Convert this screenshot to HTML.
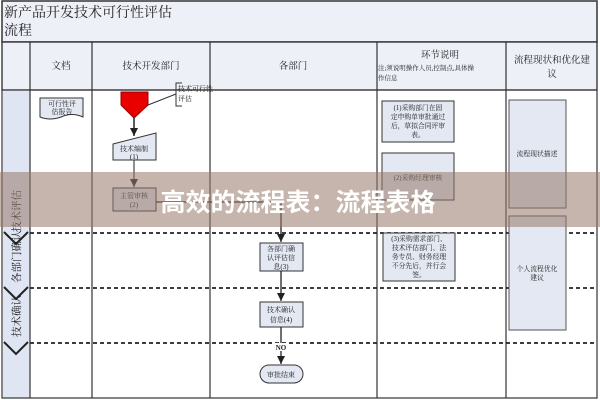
<!DOCTYPE html>
<html><head><meta charset="utf-8"><style>
html,body{margin:0;padding:0;background:#fff;}
svg{display:block;}
text{font-family:"Liberation Serif","Noto Serif CJK SC","Noto Sans CJK SC",serif;fill:#222;}
</style></head><body>
<svg width="600" height="400" viewBox="0 0 600 400" xmlns="http://www.w3.org/2000/svg">
<defs>
<marker id="a" viewBox="0 0 10 10" refX="10" refY="5" markerWidth="8" markerHeight="8" orient="auto" markerUnits="userSpaceOnUse"><path d="M0,0 L10,5 L0,10 z" fill="#222"/></marker></defs>
<rect x="0" y="0" width="600" height="400" fill="#fff"/>
<rect x="2" y="1" width="595" height="41" fill="#eef0f8" stroke="#333" stroke-width="1.5"/>
<text x="4" y="17" font-size="14">新产品开发技术可行性评估</text>
<text x="4" y="35" font-size="14">流程</text>
<rect x="2" y="42" width="595" height="48" fill="#eef0f8" stroke="#333" stroke-width="1.2"/>
<rect x="3" y="90" width="27" height="308" fill="#dfe5f2"/>
<g stroke="#333" stroke-width="1.2">
<line x1="30" y1="42" x2="30" y2="398"/><line x1="92" y1="42" x2="92" y2="398"/>
<line x1="210" y1="42" x2="210" y2="398"/><line x1="377" y1="42" x2="377" y2="398"/>
<line x1="506" y1="42" x2="506" y2="398"/><line x1="2" y1="90" x2="597" y2="90"/>
<rect x="2" y="42" width="595" height="356" fill="none"/>
</g>
<g stroke="#222" stroke-width="1.8" stroke-dasharray="4,3">
<line x1="30" y1="233" x2="597" y2="233"/><line x1="30" y1="288" x2="597" y2="288"/><line x1="30" y1="343" x2="597" y2="343"/>
</g>
<g fill="none" stroke="#222" stroke-width="2">
<polyline points="4,232 16,244 28,232"/><polyline points="4,287 16,299 28,287"/><polyline points="4,342 16,354 28,342"/>
</g>
<g font-size="10.5" transform="rotate(-90)">
<text x="-232" y="20">技术评估</text><text x="-283" y="20">各部门确认</text><text x="-337" y="20">技术确认</text>
</g>
<g font-size="9.5" text-anchor="middle">
<text x="61" y="69">文档</text><text x="151" y="69">技术开发部门</text><text x="293" y="69">各部门</text>
<text x="440" y="58">环节说明</text>
<text x="552" y="63">流程现状和优化建</text><text x="552" y="77">议</text>
</g>
<g font-size="6.5"><text x="378" y="70">注;须说明操作人员,控制点,具体操</text><text x="378" y="80">作信息</text></g>
<path d="M40,98 H83 V117 Q72,112 61,117 Q50,121 40,117 Z" fill="#e3e8f2" stroke="#333"/>
<g font-size="7" text-anchor="middle"><text x="62" y="106">可行性评</text><text x="62" y="114">估报告</text></g>
<path d="M121,92 H148 V105 L134,118 L121,105 Z" fill="#e80000" stroke="#900"/>
<line x1="148" y1="105" x2="176" y2="94" stroke="#333"/>
<polyline points="182,83 176,83 176,106 182,106" fill="none" stroke="#333"/>
<g font-size="7"><text x="178" y="91">技术可行性</text><text x="178" y="101">评估</text></g>
<line x1="134" y1="118" x2="134" y2="136" stroke="#222" stroke-width="1.5" marker-end="url(#a)"/>
<path d="M113,144 L156,133 V160 H113 Z" fill="#e3e8f2" stroke="#333"/>
<g font-size="7" text-anchor="middle"><text x="134" y="151">技术编制</text><text x="134" y="159">(1)</text></g>
<line x1="134" y1="160" x2="134" y2="187" stroke="#444" stroke-width="1.2" marker-end="url(#a)"/>
<rect x="113" y="188" width="43" height="23" fill="#e3e8f2" stroke="#333"/>
<g font-size="7" text-anchor="middle"><text x="134" y="198">主管审核</text><text x="134" y="207">(2)</text></g>
<polyline points="156,202 281,202 281,242" fill="none" stroke="#222" stroke-width="1.3" marker-end="url(#a)"/>
<rect x="260" y="243" width="43" height="28" fill="#e3e8f2" stroke="#333"/>
<g font-size="7" text-anchor="middle"><text x="281" y="251">各部门确</text><text x="281" y="260">认评估信</text><text x="281" y="269">息(3)</text></g>
<line x1="281" y1="271" x2="281" y2="301" stroke="#222" stroke-width="1.3" marker-end="url(#a)"/>
<rect x="260" y="302" width="43" height="25" fill="#e3e8f2" stroke="#333"/>
<g font-size="7" text-anchor="middle"><text x="281" y="312">技术确认</text><text x="281" y="322">信息(4)</text></g>
<line x1="281" y1="327" x2="281" y2="364" stroke="#222" stroke-width="1.3" marker-end="url(#a)"/>
<rect x="273" y="343" width="16" height="8" fill="#fff"/>
<text x="281" y="350" font-size="7" text-anchor="middle" font-weight="bold">NO</text>
<rect x="260" y="365" width="43" height="18" rx="9" fill="#e3e8f2" stroke="#333"/>
<text x="281" y="377" font-size="7" text-anchor="middle">审批结束</text>
<rect x="382" y="101" width="72" height="41" fill="#e3e8f2" stroke="#333"/>
<g font-size="6.8" text-anchor="middle"><text x="418" y="110">(1)采购部门在固</text><text x="418" y="119">定申购单审批通过</text><text x="418" y="128">后，草拟合同评审</text><text x="418" y="137">表。</text></g>
<rect x="382" y="153" width="72" height="47" fill="#e3e8f2" stroke="#333"/>
<text x="418" y="180" font-size="6.8" text-anchor="middle">(2)采购经理审核</text>
<rect x="383" y="233" width="72" height="48" fill="#e3e8f2" stroke="#333"/>
<g font-size="6.8" text-anchor="middle"><text x="419" y="241">(3)采购需求部门、</text><text x="419" y="250">技术评估部门、法</text><text x="419" y="259">务专员、财务经理</text><text x="419" y="268">不分先后，并行会</text><text x="419" y="277">签。</text></g>
<rect x="509" y="100" width="57" height="108" fill="#e3e8f2" stroke="#555"/>
<text x="537" y="156" font-size="6.8" text-anchor="middle">流程现状描述</text>
<rect x="509" y="216" width="57" height="114" fill="#e3e8f2" stroke="#555"/>
<g font-size="6.8" text-anchor="middle"><text x="537" y="271">个人流程优化</text><text x="537" y="280">建议</text></g>
<rect x="0" y="172" width="600" height="55" fill="rgba(150,120,105,0.55)"/>
<text x="298" y="211" font-size="25" font-weight="bold" text-anchor="middle" style="fill:#fff;font-family:'Liberation Sans','Noto Sans CJK SC',sans-serif">高效的流程表：流程表格</text>
</svg>
</body></html>
